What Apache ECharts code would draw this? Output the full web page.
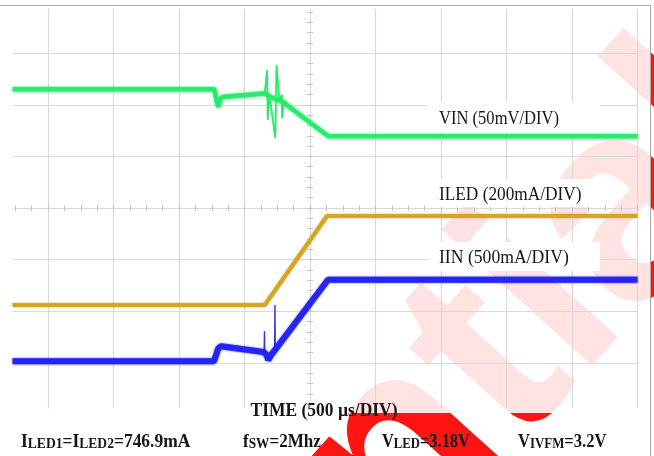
<!DOCTYPE html>
<html>
<head>
<meta charset="utf-8">
<script src="https://cdn.jsdelivr.net/npm/echarts@6/dist/echarts.min.js"></script>
<style>
  html, body { margin: 0; padding: 0; background: #ffffff; }
  #chart { width: 654px; height: 456px; }
</style>
</head>
<body>
<div id="chart"></div>
<script>
// Scope capture of the LED driver start-up: time and amplitude in screen divisions
// (time 500 us/DIV, centre of screen = 0).

// VIN trace (50 mV/DIV)
const vinT = [-4.54, -1.46, -1.42, -1.40, -1.37, -1.34, -0.69, -0.55, -0.40, -0.36, 0.28, 5.0];
const vinV = [2.30, 2.30, 2.05, 1.96, 2.10, 2.15, 2.22, 2.12, 2.05, 2.00, 1.39, 1.39];
// VIN switching transient (thin ringing)
const vinRingT = [-0.69, -0.655, -0.645, -0.62, -0.53, -0.51, -0.47, -0.43, -0.425, -0.40];
const vinRingV = [2.22, 2.67, 1.71, 2.20, 1.36, 2.77, 2.10, 2.19, 1.74, 2.05];

// ILED trace (200 mA/DIV)
const iledT = [-4.54, -0.69, 0.26, 5.0];
const iledV = [-1.88, -1.88, -0.155, -0.155];

// IIN trace (500 mA/DIV)
const iinT = [-4.54, -1.465, -1.40, -1.36, -0.71, -0.66, -0.637, -0.60, -0.51, 0.275, 5.0];
const iinV = [-2.97, -2.97, -2.72, -2.68, -2.79, -2.85, -2.95, -2.86, -2.71, -1.39, -1.39];
// IIN glitches
const iinGlitch1T = [-0.70, -0.695, -0.69];
const iinGlitch1V = [-2.80, -2.39, -2.85];
const iinGlitch2T = [-0.54, -0.535, -0.53];
const iinGlitch2V = [-2.80, -1.88, -2.78];

// Graticule
const xDivs = [-4, -3, -2, -1, 0, 1, 2, 3, 4, 5];
const yDivs = [-3, -2, -1, 0, 1, 2, 3];

const channelLabels = ['VIN (50mV/DIV)', 'ILED (200mA/DIV)', 'IIN (500mA/DIV)'];
const timeLabel = 'TIME (500 \u00b5s/DIV)';
const condLabels = ['I{s|LED1}=I{s|LED2}=746.9mA', 'f{s|SW}=2Mhz', 'V{s|LED}=3.18V', 'V{s|IVFM}=3.2V'];
const watermark = 'Confidential';

const pairs = (t, v) => t.map((x, i) => [x, v[i]]);

const gridColor = '#d9d9d9';
const tickColor = '#c4c4c4';
const serif = '"Liberation Serif", "DejaVu Serif", serif';
const GREEN = '#26ea6a', GOLD = '#d6a324', BLUE = '#2424f2';

const chart = echarts.init(document.getElementById('chart'), null, { renderer: 'canvas' });

function centreAxis(pos, isX) {
  return {
    gridIndex: 1,
    type: 'value',
    position: pos,
    min: isX ? -4.5 : -3.8,
    max: isX ? 5 : 3.8,
    interval: isX ? 0.25 : 0.2,
    axisLine: { show: true, onZero: true, lineStyle: { color: gridColor, width: 1 } },
    axisTick: { show: true, inside: false, length: 3, lineStyle: { color: tickColor, width: 1 } },
    axisLabel: { show: false },
    splitLine: { show: false }
  };
}

function trace(name, t, v, color, width, blur) {
  return {
    name: name, type: 'line', xAxisIndex: 0, yAxisIndex: 0, showSymbol: false, silent: true,
    data: pairs(t, v), z: 3,
    lineStyle: { color: color, width: width, shadowBlur: blur, shadowColor: color, opacity: 0.95 }
  };
}

function label(text, x, y, scaleX, font, smallSize, align) {
  return {
    type: 'text', z: 6, x: x, y: y, scaleX: scaleX,
    style: {
      text: text, fill: '#151515', font: font, align: align || 'left', verticalAlign: 'middle',
      rich: { s: { font: font.replace(/\d+px/, (smallSize || 12) + 'px'), verticalAlign: 'bottom' } }
    }
  };
}

const option = {
  animation: false,
  backgroundColor: '#ffffff',
  grid: [
    { left: 12.6, right: 16.5, top: 8.8, bottom: 47.8, containLabel: false },
    { left: 15.25, right: 16.5, top: 11.9, bottom: 51.9, containLabel: false }
  ],
  xAxis: [
    {
      gridIndex: 0, type: 'value', min: -4.54, max: 5,
      axisLine: { show: false },
      axisTick: { show: false, customValues: xDivs },
      axisLabel: { show: false, customValues: xDivs },
      splitLine: { show: true, lineStyle: { color: gridColor, width: 1.2 } }
    },
    centreAxis('bottom', true),
    centreAxis('top', true)
  ],
  yAxis: [
    {
      gridIndex: 0, type: 'value', min: -3.88, max: 3.86,
      axisLine: { show: false },
      axisTick: { show: false, customValues: yDivs },
      axisLabel: { show: false, customValues: yDivs },
      splitLine: { show: true, lineStyle: { color: gridColor, width: 1.2 } }
    },
    centreAxis('left', false),
    centreAxis('right', false)
  ],
  series: [
    trace('VIN', vinT, vinV, GREEN, 4.5, 3),
    trace('VIN ringing', vinRingT, vinRingV, GREEN, 1.5, 1),
    trace('ILED', iledT, iledV, GOLD, 4, 2),
    trace('IIN', iinT, iinV, BLUE, 6, 2),
    trace('IIN glitch 1', iinGlitch1T, iinGlitch1V, BLUE, 1.4, 0),
    trace('IIN glitch 2', iinGlitch2T, iinGlitch2V, BLUE, 1.4, 0)
  ],
  graphic: [
    // watermark, full strength outside the screen area
    {
      type: 'text', z: -3, x: 730, y: 97, rotation: 48 * Math.PI / 180,
      style: { text: watermark, fill: 'rgba(255,0,0,0.92)', font: 'bold 280px "Liberation Sans", Arial, sans-serif', align: 'right', verticalAlign: 'middle' }
    },
    // white veil over the screen image
    { type: 'rect', z: -2, shape: { x: 0, y: 5, width: 650, height: 408 }, style: { fill: 'rgba(255,255,255,0.88)' } },
    // page frame
    { type: 'line', z: 5, shape: { x1: 0, y1: 5.5, x2: 650.5, y2: 5.5 }, style: { stroke: '#a8a8a8', lineWidth: 1 } },
    { type: 'line', z: 5, shape: { x1: 650.5, y1: 5.5, x2: 650.5, y2: 456 }, style: { stroke: '#a8a8a8', lineWidth: 1 } },
    // channel label boxes
    { type: 'rect', z: 1, shape: { x: 428, y: 102, width: 172, height: 31 }, style: { fill: '#ffffff' } },
    { type: 'rect', z: 1, shape: { x: 428, y: 179, width: 172, height: 28 }, style: { fill: '#ffffff' } },
    { type: 'rect', z: 1, shape: { x: 428, y: 242, width: 172, height: 29 }, style: { fill: '#ffffff' } },
    // channel labels
    label(channelLabels[0], 439, 119, 0.92, '18px ' + serif),
    label(channelLabels[1], 439, 195.5, 0.96, '18px ' + serif),
    label(channelLabels[2], 439, 258, 0.98, '18px ' + serif),
    // time base
    label(timeLabel, 324, 411, 0.92, 'bold 19px ' + serif, 12, 'center'),
    // test conditions
    label(condLabels[0], 21, 442, 0.97, 'bold 18px ' + serif, 14),
    label(condLabels[1], 243, 442, 0.95, 'bold 18px ' + serif, 14),
    label(condLabels[2], 382, 442, 0.91, 'bold 18px ' + serif, 14),
    label(condLabels[3], 518, 442, 0.92, 'bold 18px ' + serif, 14)
  ]
};

chart.setOption(option);
</script>
</body>
</html>
